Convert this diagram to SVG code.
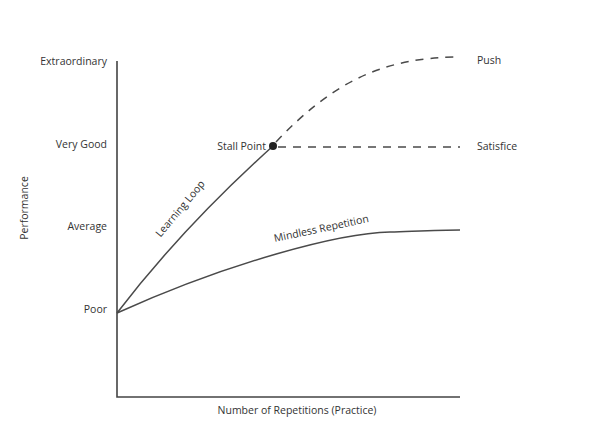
<svg xmlns="http://www.w3.org/2000/svg" width="600" height="432" viewBox="0 0 600 432">
<style>
text{font-family:"Open Sans","Noto Sans","Liberation Sans",sans-serif;font-size:10.5px;fill:#333}
.ax{stroke:#444;stroke-width:1.6;fill:none}
.ln{stroke:#4a4a4a;stroke-width:1.5;fill:none}
.dash{stroke:#4a4a4a;stroke-width:1.5;fill:none;stroke-dasharray:8 7}
.r{text-anchor:end}
</style>
<rect width="600" height="432" fill="#fff"/>
<g id="axes">
<path class="ax" d="M117,61 V397 H460"/>
<text x="107" y="65" class="r">Extraordinary</text>
<text x="107" y="148" class="r">Very Good</text>
<text x="107" y="230" class="r">Average</text>
<text x="107" y="313" class="r">Poor</text>
<text transform="translate(28,208) rotate(-90)" text-anchor="middle">Performance</text>
<text x="297" y="414" text-anchor="middle">Number of Repetitions (Practice)</text>
</g>
<g id="connectors">
<path id="learning" class="ln" d="M117,313 Q182,228 273,146"/>
<path id="mindless" class="ln" d="M117,313 C230,262 340,233 390,232 C420,231 440,230 460,230"/>
<path id="push" class="dash" d="M276,142 C330,85 380,57 460,57"/>
<path id="satisfice" class="dash" d="M278,147 H460"/>
</g>
<g id="stall">
<circle cx="273" cy="146" r="4" fill="#222"/>
<text x="266" y="150" class="r">Stall Point</text>
</g>
<g id="labels">
<text transform="translate(183,211) rotate(-50)" text-anchor="middle">Learning Loop</text>
<text transform="translate(322,232) rotate(-12)" text-anchor="middle">Mindless Repetition</text>
<text x="477" y="64">Push</text>
<text x="477" y="150">Satisfice</text>
</g>
</svg>
